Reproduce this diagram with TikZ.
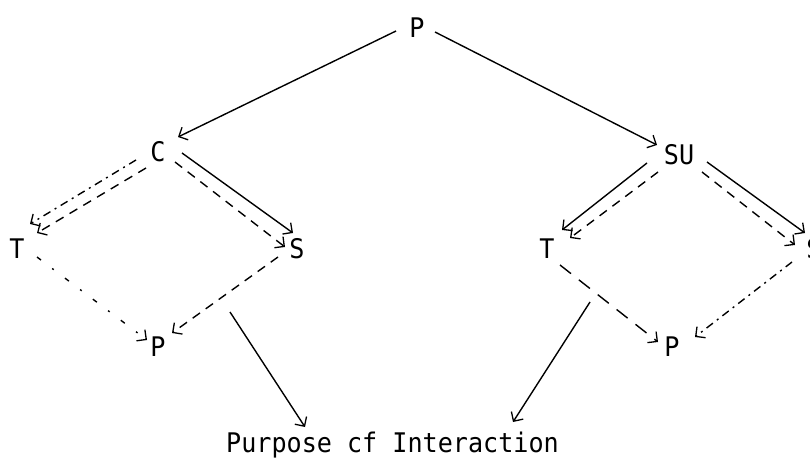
\documentclass[tikz,border=0pt]{standalone}
\usepackage{fontspec}
\newfontfamily\twfont[FakeStretch=0.93]{DejaVu Sans Mono}
\usetikzlibrary{arrows.meta,calc}
\tikzset{
  lbl/.style={font=\twfont\fontsize{27}{27}\selectfont, inner sep=0pt, text=black},
  conn/.style={line width=1.4pt, -{Straight Barb[length=7pt,width=14pt,line width=1.3pt]}},
  solidln/.style={conn},
  dashln/.style={conn, dash pattern=on 9pt off 7pt},
  longdashln/.style={conn, dash pattern=on 14pt off 10pt},
  dotdashln/.style={conn, dash pattern=on 8pt off 5pt on 2pt off 5pt},
  sparseln/.style={conn, dash pattern=on 5pt off 14pt on 2pt off 14pt},
}
\begin{document}
\begin{tikzpicture}[x=1pt,y=-1pt]
\clip (0,0) rectangle (810,460);
\fill[white] (0,0) rectangle (810,460);
% nodes
\node[lbl] (Ptop) at (417,28) {P};
\node[lbl] (C) at (158,152) {C};
\node[lbl] (SU) at (679,155) {SU};
\node[lbl] (TL) at (17,249) {T};
\node[lbl] (SL) at (297,249) {S};
\node[lbl] (TR) at (547,249) {T};
\node[lbl] (SR) at (814,249) {S};
\node[lbl] (PL) at (158,347) {P};
\node[lbl] (PR) at (672,347) {P};
\node[lbl, anchor=base west] (pur) at (226,452) {Purpose cf Interaction};
\coordinate (m1) at (230,312);
\coordinate (m2) at (590,302);
% top edges
\draw[solidln] ($(Ptop)+(-21,3)$) -- ($(C)+(20,-15)$);
\draw[solidln] ($(Ptop)+(18,4)$) -- ($(SU)+(-22,-10)$);
% left diamond
\draw[dotdashln] ($(C)+(-22,8)$) -- ($(TL)+(13,-25)$);
\draw[dashln] ($(C)+(-12,16)$) -- ($(TL)+(20,-16)$);
\draw[solidln] ($(C)+(24,1)$) -- ($(SL)+(-4,-16)$);
\draw[dashln] ($(C)+(17,10)$) -- ($(SL)+(-12,-2)$);
\draw[sparseln] ($(TL)+(20,8)$) -- ($(PL)+(-11,-7)$);
\draw[dashln] ($(SL)+(-19,8)$) -- ($(PL)+(14,-14)$);
% right diamond
\draw[solidln] ($(SU)+(-32,8)$) -- ($(TR)+(15,-19)$);
\draw[dashln] ($(SU)+(-21,17)$) -- ($(TR)+(23,-11)$);
\draw[solidln] ($(SU)+(28,7)$) -- ($(SR)+(-9,-16)$);
\draw[dashln] ($(SU)+(23,17)$) -- ($(SR)+(-19,-4)$);
\draw[longdashln] ($(TR)+(13,16)$) -- ($(PR)+(-14,-5)$);
\draw[dotdashln] ($(SR)+(-22,13)$) -- ($(PR)+(23,-10)$);
% to purpose
\draw[solidln] (m1) -- ($(pur.base west)+(79,-25)$);
\draw[solidln] (m2) -- ($(pur.base west)+(287,-30)$);
\end{tikzpicture}
\end{document}
